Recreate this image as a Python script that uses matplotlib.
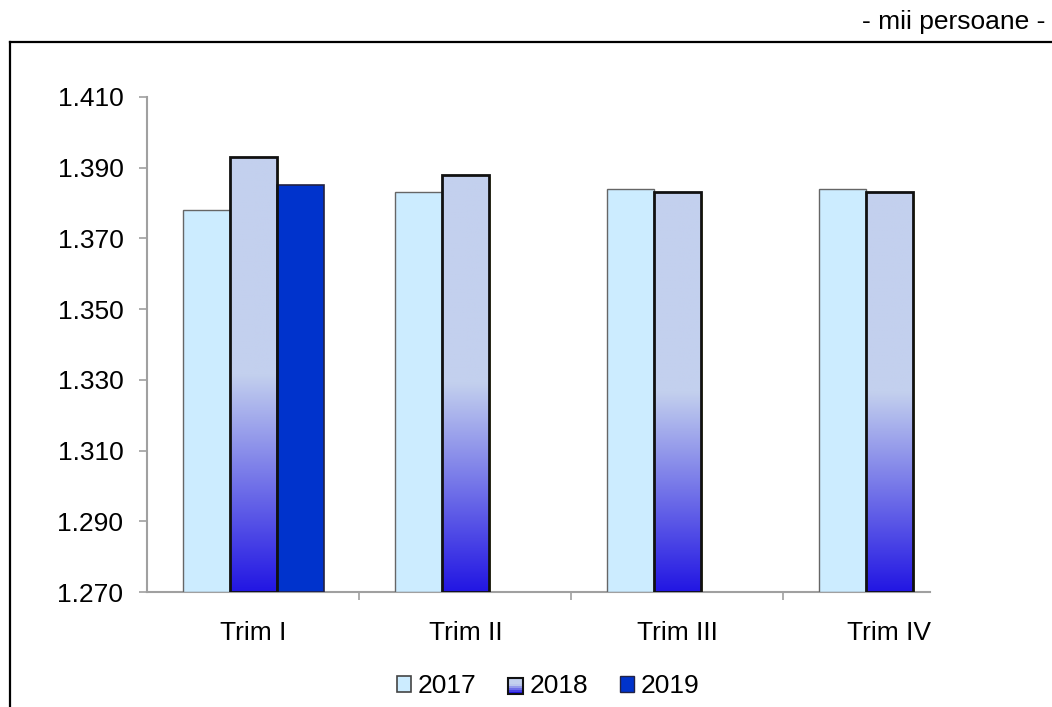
import matplotlib.pyplot as plt
import numpy as np
from matplotlib.patches import Rectangle
from matplotlib.lines import Line2D
from matplotlib.legend_handler import HandlerBase
import matplotlib.transforms as mtransforms

plt.rcParams['font.family'] = ['Liberation Sans', 'DejaVu Sans']

categories = ["Trim I", "Trim II", "Trim III", "Trim IV"]
years = ["2017", "2018", "2019"]
v2017 = [1378, 1383, 1384, 1384]
v2018 = [1393, 1388, 1383, 1383]
v2019 = [1385]
yticks = [1270, 1290, 1310, 1330, 1350, 1370, 1390, 1410]

c2017 = "#CCECFF"
c2019 = "#0033CC"
light = np.array([0xC3, 0xD0, 0xEE]) / 255
blue = np.array([0x22, 0x16, 0xE3]) / 255

# gradient for the 2018 bars: top half flat, bottom half fades to blue
n = 256
t = np.clip((np.arange(n) / (n - 1) - 0.5) / 0.5, 0, 1)
grad = (light[None, :] * (1 - t[:, None]) + blue[None, :] * t[:, None])[:, None, :]

fig = plt.figure(figsize=(10.52, 7.07), dpi=100)
ax = fig.add_axes([147 / 1052, 1 - 592 / 707, (930 - 147) / 1052, (592 - 97) / 707])

w = 47 / 212
x = np.arange(len(categories))
base = 1270
fs = 19

ax.bar(x - w, np.array(v2017) - base, w, bottom=base, color=c2017,
       edgecolor="#666666", linewidth=1.0, zorder=3)

glow = mtransforms.offset_copy(ax.transData, fig=fig, x=2.5, y=-2.5, units="dots")
for i, v in enumerate(v2018):
    x0 = x[i] - w / 2
    ax.add_patch(Rectangle((x0, base), w, v - base, facecolor="#FFFF44",
                           edgecolor="none", alpha=0.75, transform=glow, zorder=2))
    bar = Rectangle((x0, base), w, v - base, facecolor="none",
                    edgecolor="#111111", linewidth=2.0, zorder=4)
    ax.add_patch(bar)
    im = ax.imshow(grad, extent=[x0, x0 + w, base, v], aspect="auto",
                   origin="upper", zorder=3)
    im.set_clip_path(bar)

ax.bar(x[:len(v2019)] + w, np.array(v2019) - base, w, bottom=base, color=c2019,
       edgecolor="#222244", linewidth=1.2, zorder=3)

ax.set_xlim(-0.502, (930 - 253.5) / 212)
ax.set_ylim(1270, 1410)
ax.set_yticks(yticks)
ax.set_yticklabels([f"{v:,}".replace(",", ".") for v in yticks], fontsize=fs)
ax.set_xticks(x)
ax.set_xticklabels(categories, fontsize=fs)
ax.set_xticks([0.5, 1.5, 2.5], minor=True)
ax.tick_params(axis="x", which="major", length=0, pad=21)
ax.tick_params(axis="x", which="minor", length=6, direction="out", color="#A0A0A0", width=1.2)
ax.tick_params(axis="y", length=6, direction="out", color="#A0A0A0", width=1.2, pad=11)
for s in ["top", "right"]:
    ax.spines[s].set_visible(False)
for s in ["left", "bottom"]:
    ax.spines[s].set_color("#A0A0A0")
    ax.spines[s].set_linewidth(1.5)


class GradHandler(HandlerBase):
    def create_artists(self, legend, orig, xd, yd, width, height, fontsize, trans):
        arts = []
        k = 8
        for j in range(k):
            tt = min(1, max(0, (j / (k - 1) - 0.4) / 0.6))
            col = light * (1 - tt) + blue * tt
            arts.append(Rectangle((xd, yd + height * (1 - (j + 1) / k)), width, height / k,
                                  facecolor=col, edgecolor="none", transform=trans))
        arts.append(Rectangle((xd, yd), width, height, facecolor="none",
                              edgecolor="#111111", linewidth=1.5, transform=trans))
        return arts


h17 = Rectangle((0, 0), 1, 1, facecolor=c2017, edgecolor="#444444", linewidth=1.2)
h18 = Rectangle((0, 0), 1, 1)
h19 = Rectangle((0, 0), 1, 1, facecolor=c2019, edgecolor="#222244", linewidth=1.0)
fig.legend([h17, h18, h19], years, loc="center", bbox_to_anchor=(548 / 1052, 1 - 686 / 707),
           ncol=3, frameon=False, fontsize=fs, handlelength=0.55, handleheight=0.55,
           handletextpad=0.25, columnspacing=1.2, handler_map={h18: GradHandler()})

fig.text(1045 / 1052, 1 - 22 / 707, "- mii persoane -", ha="right", va="center", fontsize=fs)
fig.add_artist(Line2D([10 / 1052, 1.0], [1 - 42 / 707] * 2, color="black", linewidth=1.6))
fig.add_artist(Line2D([10 / 1052] * 2, [1 - 42 / 707, 0.0], color="black", linewidth=1.6))

plt.savefig("out.png", dpi=100)
